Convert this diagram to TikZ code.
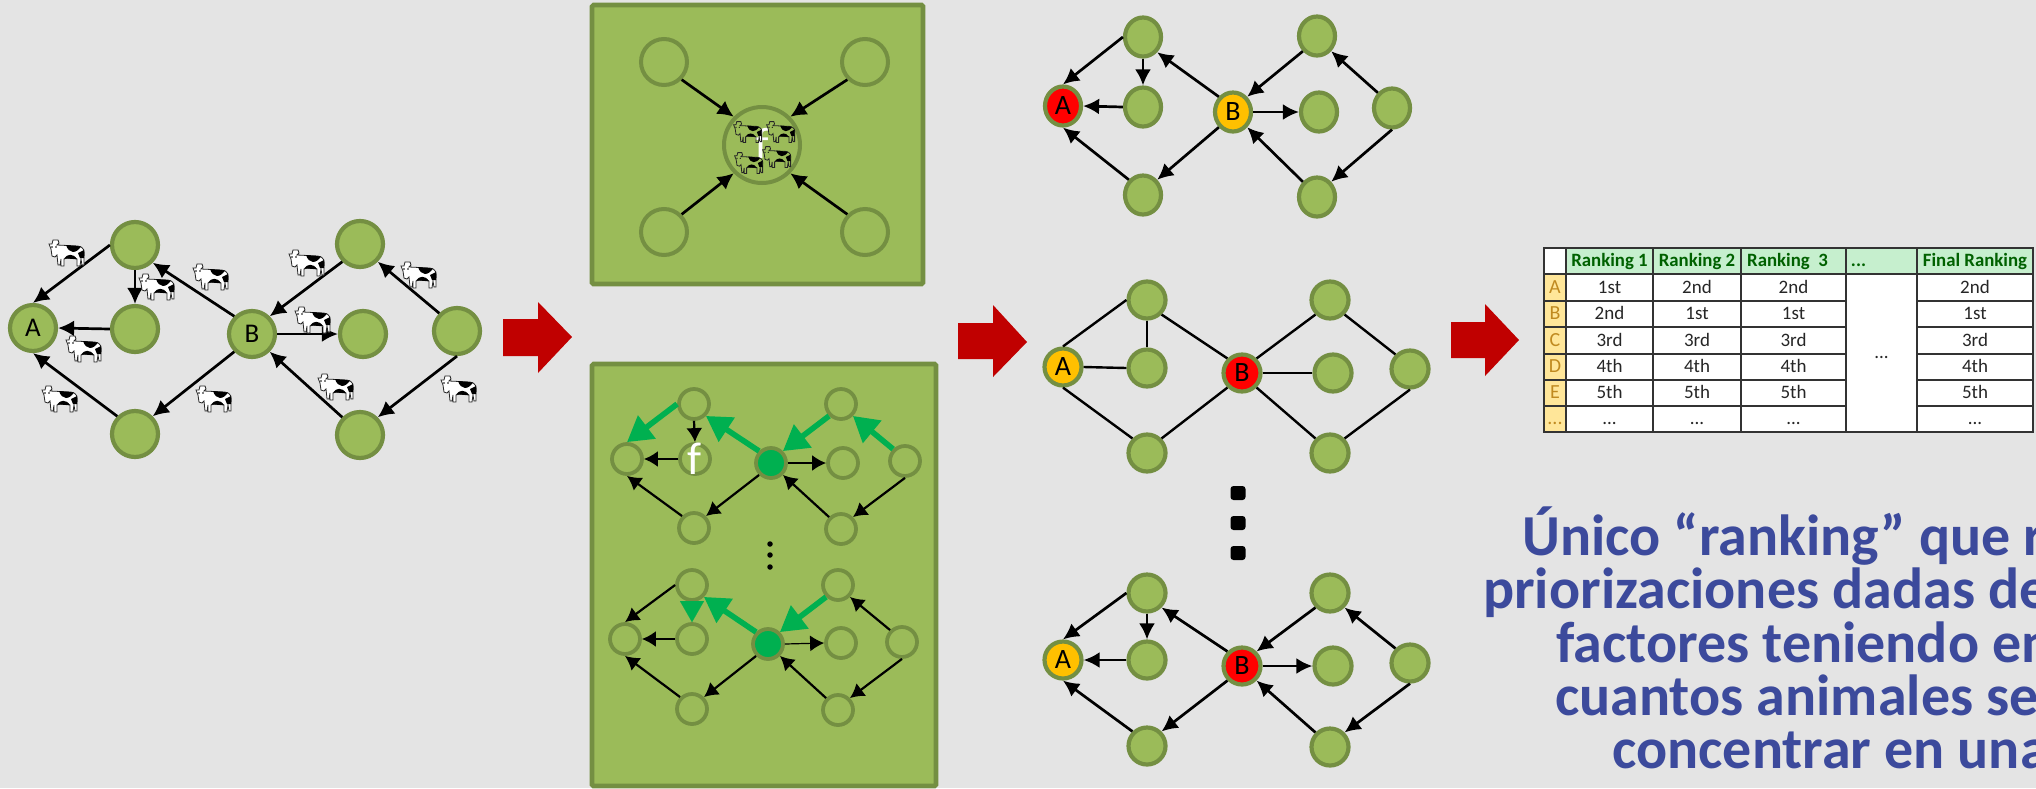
\documentclass[tikz,border=0pt]{standalone}
\usepackage{fontspec}
\setmainfont{Carlito}
\usetikzlibrary{arrows.meta,shapes.geometric}
\definecolor{bgc}{HTML}{E4E4E4}
\definecolor{leaf}{HTML}{9BBB59}
\definecolor{ringc}{HTML}{748F42}
\definecolor{grn}{HTML}{00B050}
\definecolor{gold}{HTML}{FFC000}
\definecolor{redc}{HTML}{FF0000}
\definecolor{dred}{HTML}{C00000}
\definecolor{txtb}{HTML}{3C4A9C}
\definecolor{hdg}{HTML}{C6EFCE}
\definecolor{hdt}{HTML}{006100}
\definecolor{rhf}{HTML}{FFE699}
\definecolor{rht}{HTML}{C08A20}
\newcommand{\fs}[1]{\fontsize{#1}{#1}\selectfont}
\newcommand{\tdd}{...}
\tikzset{
  gnode/.style={ellipse,draw=ringc,fill=leaf,inner sep=0pt,outer sep=auto,line width=4.2pt,
    minimum width=46pt,minimum height=46pt,text=black,font=\fs{28}},
  arr/.style={-{Latex[length=16pt,width=16pt]},line width=2.7pt,black},
  garr/.style={-{Triangle[length=25pt,width=28pt]},line width=5.6pt,grn},
  eTA/.style={arr},eQA/.style={arr},eTQ/.style={arr},eBT/.style={arr},eBS/.style={arr},
  eSA/.style={arr},eUB/.style={arr},eRU/.style={arr},eBV/.style={arr},eRW/.style={arr},eWB/.style={arr},
  panel/.style={draw=ringc,fill=leaf,line width=4.6pt,rounded corners=1.5pt},
  tcellb/.style={draw=black!80,line width=1.6pt,inner sep=0pt,anchor=center,text height=14pt,text depth=3pt},
  hdr/.style={tcellb,fill=hdg,text=hdt,font=\fs{18.8}\bfseries},
  rhd/.style={tcellb,fill=rhf,text=rht,font=\fs{20}},
  bod/.style={tcellb,fill=white,text=black!85,font=\fs{19}},
  bold/.style={anchor=base west,inner sep=0pt,text=txtb,font=\fs{58}\bfseries},
  fmark/.style={text=white,inner sep=0pt,font=\fs{46}},
  blockarrow/.style={fill=dred},
  dotbig/.style={fill=black,rounded corners=3pt,minimum width=15pt,minimum height=14pt,inner sep=0pt},
  dotsmall/.style={fill=black,circle,minimum size=5.5pt,inner sep=0pt},
  cowbody/.style={fill=white},
  cow/.pic={
    \filldraw[cowbody,draw=black!85,line width=.8pt]
      (-10,-8) -- (11,-7) .. controls (17,-6) and (18,-2) .. (17,4) -- (17,12) -- (15,12) -- (14,6)
      -- (13,13) -- (10,13) -- (10,6) -- (0,5) -- (-3,6) -- (-3,13) -- (-6,13) -- (-6,6) -- (-7,12) -- (-9,12)
      -- (-10,2) -- (-12,4) -- (-15,3) -- (-16,-4) -- (-18,-9) -- (-15,-9) -- (-14,-13) -- (-9,-13) -- (-8,-10) -- cycle;
    \fill[black] (-1,-8) .. controls (2,1) and (9,1) .. (14,-6.5) -- cycle;
    \fill[black] (11,0) -- (17,-3) -- (17,5) -- (13,5) -- cycle;
    \fill[black] (-3,5.5) .. controls (0,1) and (6,0) .. (10,6) -- cycle;
    \fill[black] (-15,-6) circle (.8);
    \fill[black] (-11,-6) circle (.8);
  }
}
\newcommand{\netnodes}[2]{%
  \foreach \n/\x/\y in {#2} {\node[gnode] (#1\n) at (\x,\y) {};}%
}
\newcommand{\netedges}[1]{%
  \draw[eTA] (#1P.west) -- (#1A.north);
  \draw[eQA] (#1Q.west) -- (#1A.east);
  \draw[eTQ] (#1P.south) -- (#1Q.north);
  \draw[eBT] (#1B.north west) -- (#1P.south east);
  \draw[eBS] (#1B.south west) -- (#1S.north east);
  \draw[eSA] (#1S.north west) -- (#1A.south);
  \draw[eUB] (#1U.south west) -- (#1B.north east);
  \draw[eRU] (#1R.north west) -- (#1U.south east);
  \draw[eBV] (#1B.east) -- (#1M.west);
  \draw[eRW] (#1R.south) -- (#1W.north east);
  \draw[eWB] (#1W.north west) -- (#1B.south east);
}
\newcommand{\tcell}[7]{%
  \pgfmathsetmacro{\cx}{(#2+#3)/2}\pgfmathsetmacro{\cy}{(#4+#5)/2}%
  \pgfmathsetmacro{\cw}{#3-#2}\pgfmathsetmacro{\ch}{#5-#4}%
  \node[#6,minimum width=\cw pt,minimum height=\ch pt] (#1) at (\cx,\cy) {#7};%
}
\begin{document}
\begin{tikzpicture}[x=1pt,y=-1pt]
\path[use as bounding box,fill=bgc] (0,0) rectangle (2036,788);
\begin{scope}
\clip (0,0) rectangle (2036,788);

% --- left graph with animals
\netnodes{a}{A/33/328,P/135/245,Q/135/329,S/135/434,B/252/334,U/360/244,M/363/334,R/457/331,W/360/435}
\node[font=\fs{27},inner sep=0pt] (aAl) at (aA) {A};
\node[font=\fs{27},inner sep=0pt] (aBl) at (aB) {B};
\netedges{a}
\foreach \x/\y in {67/253,211/277,157/287,84/349,60/399,214/399,307/263,419/275,313/320,336/387,459/389}
  \pic at (\x,\y) {cow};

% --- block arrows
\fill[blockarrow] (503,319) -- (538,319) -- (538,302) -- (572,337) -- (538,373) -- (538,356) -- (503,356) -- cycle;
\fill[blockarrow] (958,323) -- (993,323) -- (993,305) -- (1027,342) -- (993,377) -- (993,359) -- (958,359) -- cycle;
\fill[blockarrow] (1451,322) -- (1485,322) -- (1485,304) -- (1519,340) -- (1485,376) -- (1485,358) -- (1451,358) -- cycle;

% --- upper panel
\path[panel] (592,5) rectangle (923,284);
\begin{scope}[gnode/.append style={fill=none,line width=4pt}]
  \node[gnode] (cTL) at (664,62) {};
  \node[gnode] (cTR) at (865,62) {};
  \node[gnode] (cBL) at (664,232) {};
  \node[gnode] (cBR) at (865,232) {};
  \node[gnode,minimum width=76pt,minimum height=76pt] (cC) at (762,145) {};
\end{scope}
\draw[arr] (cTL.south east) -- (cC.north west);
\draw[arr] (cTR.south west) -- (cC.north east);
\draw[arr] (cBL.north east) -- (cC.south west);
\draw[arr] (cBR.north west) -- (cC.south east);
\node[fmark,font=\fs{44}] (cf) at (762,143) {f};
\begin{scope}[cowbody/.style={fill=none}]
\pic[scale=.8] at (748,132) {cow};
\pic[scale=.8] at (781,132) {cow};
\pic[scale=.8] at (749,163) {cow};
\pic[scale=.8] at (777,157) {cow};
\end{scope}

% --- lower panel
\path[panel] (592,364) rectangle (936,786);
\begin{scope}[gnode/.append style={fill=none,line width=3.8pt,minimum width=30pt,minimum height=30pt},
  arr/.style={-{Latex[length=14pt,width=16pt]},line width=2.2pt,black}]
\netnodes{d}{A/627/459,P/694/404,Q/695/459,S/694/528,U/841/404,M/843/463,R/905/461,W/841/529}
\node[gnode,fill=grn] (dB) at (771,463) {};
\begin{scope}[eTA/.style={garr},eBT/.style={garr},eUB/.style={garr},eRU/.style={garr}]
\netedges{d}
\end{scope}
\node[fmark] (df) at (695,459) {f};
\netnodes{e}{A/625/639,P/692/585,Q/692/639,S/692/709,U/838/585,M/841/643,R/902/642,W/838/710}
\node[gnode,fill=grn] (eB) at (768,644) {};
\begin{scope}[eTQ/.style={-{Triangle[length=21pt,width=24pt]},line width=.1pt,grn},eBT/.style={garr},eUB/.style={garr},
  eBV/.style={arr,line width=1.2pt}]
\netedges{e}
\end{scope}
\end{scope}
\node[dotsmall] (pd1) at (770,544) {};
\node[dotsmall] (pd2) at (770,555) {};
\node[dotsmall] (pd3) at (770,567) {};

% --- right graphs
\begin{scope}[gnode/.append style={minimum width=36pt,minimum height=39pt}]
\netnodes{f}{P/1143/37,Q/1143/107,S/1143/195,U/1317/36,M/1319/112,R/1392/108,W/1317/197}
\node[gnode,fill=redc] (fA) at (1063,106) {A};
\node[gnode,fill=gold] (fB) at (1233,112) {B};
\end{scope}
\netedges{f}
\begin{scope}[gnode/.append style={minimum width=37pt,minimum height=37pt},arr/.style={line width=2.4pt,black}]
\netnodes{g}{P/1147/300,Q/1147/368,S/1147/453,U/1330/300,M/1333/373,R/1410/369,W/1330/453}
\node[gnode,fill=gold] (gA) at (1063,367) {A};
\node[gnode,fill=redc] (gB) at (1242,373) {B};
\netedges{g}
\end{scope}
\node[dotbig] (bd1) at (1238,493) {};
\node[dotbig] (bd2) at (1238,523) {};
\node[dotbig] (bd3) at (1238,553) {};
\begin{scope}[gnode/.append style={minimum width=37pt,minimum height=37pt}]
\netnodes{h}{P/1147/593,Q/1147/660,S/1147/746,U/1330/593,M/1333/666,R/1410/663,W/1330/747}
\node[gnode,fill=gold] (hA) at (1063,660) {A};
\node[gnode,fill=redc] (hB) at (1242,666) {B};
\end{scope}
\netedges{h}

% --- table
\tcell{c00}{1544}{1566}{248}{274}{bod}{}
\tcell{c01}{1566}{1653}{248}{274}{hdr}{Ranking 1}
\tcell{c02}{1653}{1741}{248}{274}{hdr}{Ranking 2}
\tcell{c03}{1741}{1846}{248}{274}{hdr}{\hspace*{-12pt}Ranking\ \ 3}
\tcell{c04}{1846}{1917}{248}{274}{hdr}{\hspace*{-46pt}...}
\tcell{c05}{1917}{2033}{248}{274}{hdr}{Final Ranking}
\foreach \r/\ya/\yb/\lab/\ca/\cb/\cc/\cd in {1/274/301/A/1st/2nd/2nd/2nd,2/301/327/B/2nd/1st/1st/1st,3/327/354/C/3rd/3rd/3rd/3rd,4/354/380/D/4th/4th/4th/4th,5/380/406/E/5th/5th/5th/5th,6/406/432/\tdd/\tdd/\tdd/\tdd/\tdd}{
  \tcell{r\r0}{1544}{1566}{\ya}{\yb}{rhd}{\lab}
  \tcell{r\r1}{1566}{1653}{\ya}{\yb}{bod}{\ca}
  \tcell{r\r2}{1653}{1741}{\ya}{\yb}{bod}{\cb}
  \tcell{r\r3}{1741}{1846}{\ya}{\yb}{bod}{\cc}
  \tcell{r\r5}{1917}{2033}{\ya}{\yb}{bod}{\cd}
}
\tcell{rmid}{1846}{1917}{274}{432}{bod}{\tdd}

% --- text
\node[bold] (l1) at (1522,555) {Único “ranking” que r};
\node[bold] (l2) at (1483,608) {priorizaciones dadas de};
\node[bold] (l3) at (1556,662) {factores teniendo en};
\node[bold] (l4) at (1555,715) {cuantos animales se};
\node[bold] (l5) at (1612,768) {concentrar en una};
\end{scope}
\end{tikzpicture}
\end{document}
